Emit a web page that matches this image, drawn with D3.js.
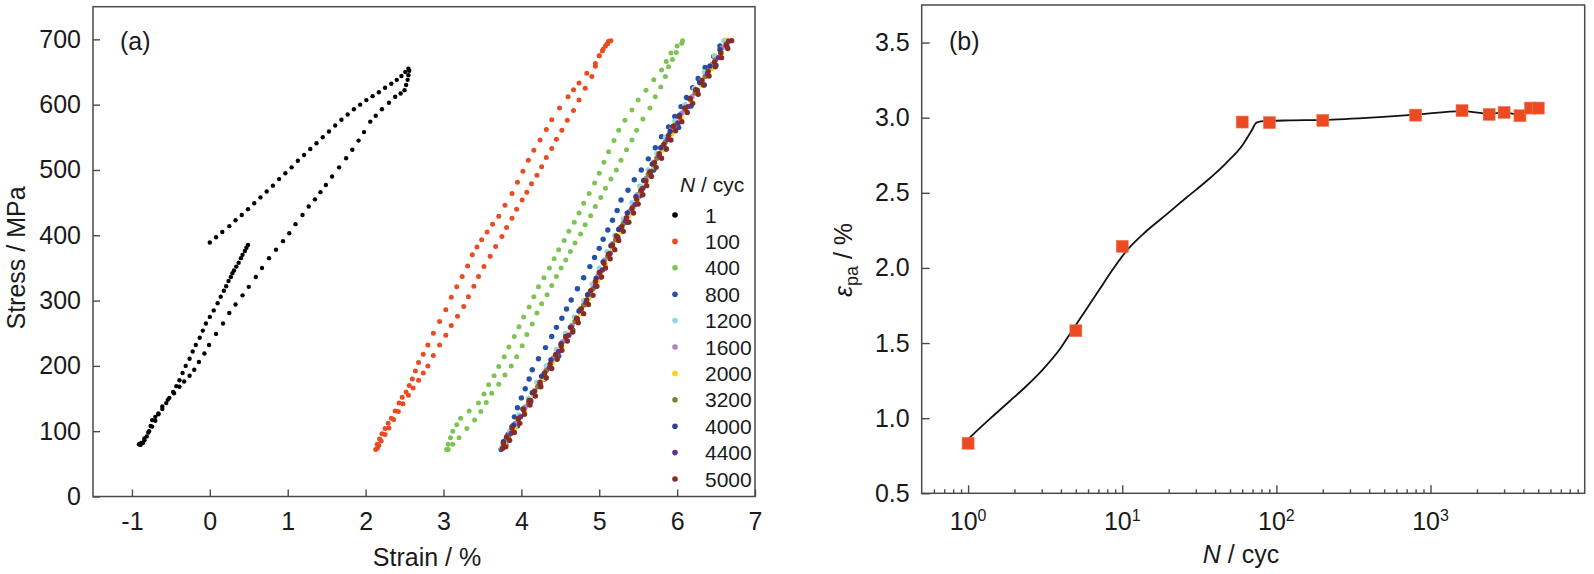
<!DOCTYPE html>
<html><head><meta charset="utf-8">
<script src="https://cdn.jsdelivr.net/npm/d3@7"></script>
<style>
body{margin:0;background:#fff}
svg{display:block}
text{font-family:"Liberation Sans",Arial,Helvetica,sans-serif;fill:#1a1a1a}
</style>
</head><body>
<svg id="c" width="1594" height="574"></svg>
<script>
// ---------------- Panel (a) data: stress-strain loops [strain %, stress MPa] ----------------
const cycleLabels = ["1","100","400","800","1200","1600","2000","3200","4000","4400","5000"];
const cycleColors = ["#000000","#ea4b23","#7dc454","#2253a6","#93d5da","#a883c4","#f8d21c","#8a7b2e","#2c3f92","#6c2e8f","#8b2a1e"];

const cycle1 = [
 [0.00,389],[0.08,397],[0.16,405],[0.25,414],[0.33,423],[0.41,431],[0.49,440],[0.57,449],[0.65,458],[0.73,467],
 [0.81,476],[0.89,486],[0.97,495],[1.05,504],[1.13,514],[1.21,523],[1.29,532],[1.37,541],[1.45,550],[1.53,559],
 [1.61,568],[1.69,577],[1.77,585],[1.85,593],[1.93,600],[2.01,607],[2.09,613],[2.17,619],[2.25,626],[2.33,632],
 [2.40,638],[2.46,644],[2.51,650],[2.55,655],
 [2.56,652],[2.55,645],[2.54,638],[2.52,630],[2.50,622],[2.45,617],[2.38,612],[2.30,603],[2.21,593],[2.13,583],
 [2.06,574],[1.98,558],[1.91,545],[1.83,531],[1.75,518],[1.66,504],[1.57,490],[1.49,477],[1.42,466],[1.35,455],
 [1.27,444],[1.19,431],[1.10,417],[1.02,403],[0.94,391],[0.85,378],[0.76,365],[0.67,350],[0.59,336],[0.50,321],
 [0.42,308],[0.33,294],[0.25,281],[0.17,265],[0.08,249],[-0.01,232],[-0.07,219],[-0.14,206],[-0.20,194],[-0.26,185],
 [-0.33,176],[-0.39,168],[-0.46,158],[-0.54,148],[-0.61,138],[-0.66,126],[-0.70,116],[-0.74,107],[-0.79,98],[-0.84,89],
 [-0.88,82],
 [-0.91,80],[-0.89,79],[-0.86,82],[-0.84,86],[-0.81,92],[-0.78,100],[-0.76,108],[-0.74,117],[-0.70,122],[-0.66,127],
 [-0.61,134],[-0.56,143],[-0.52,151],[-0.47,160],[-0.43,169],[-0.39,178],[-0.35,189],[-0.31,200],[-0.26,211],[-0.22,222],
 [-0.18,232],[-0.13,243],[-0.09,254],[-0.05,265],[0.00,275],[0.05,285],[0.10,296],[0.14,306],[0.18,315],[0.21,322],
 [0.24,330],[0.27,336],[0.29,342],[0.31,346],[0.34,352],[0.37,358],[0.40,365],[0.42,370],[0.45,376],[0.47,381],[0.49,385]
];

const cycle100 = [
 [2.13,72],[2.15,80],[2.18,88],[2.21,96],[2.25,104],[2.29,112],[2.33,120],[2.38,131],[2.43,143],[2.47,152],
 [2.52,160],[2.56,170],[2.60,180],[2.64,192],[2.68,205],[2.74,218],[2.80,232],[2.87,250],[2.95,268],[3.03,286],
 [3.10,305],[3.17,321],[3.24,337],[3.31,353],[3.37,370],[3.43,382],[3.49,393],[3.56,405],[3.63,417],[3.71,429],
 [3.79,446],[3.88,464],[3.95,481],[4.02,498],[4.09,515],[4.16,530],[4.24,546],[4.32,562],[4.39,577],[4.49,595],
 [4.60,612],[4.67,623],[4.74,633],[4.84,648],[4.95,663],[5.00,675],[5.05,685],[5.10,693],[5.12,697],
 [5.15,698],[5.11,694],[5.08,690],[5.04,682],[5.00,675],[4.95,659],[4.905,643],[4.82,625],[4.74,607],[4.67,591],
 [4.59,576],[4.52,561],[4.45,547],[4.39,533],[4.32,519],[4.26,505],[4.20,492],[4.13,479],[4.07,466],[4.01,454],
 [3.94,440],[3.88,426],[3.81,412],[3.75,398],[3.67,383],[3.60,368],[3.52,352],[3.45,337],[3.39,322],[3.32,306],
 [3.26,291],[3.18,276],[3.10,262],[3.03,247],[2.95,232],[2.87,216],[2.80,200],[2.74,189],[2.68,178],[2.61,166],
 [2.55,155],[2.48,142],[2.42,130],[2.36,118],[2.30,105],[2.25,95],[2.20,85],[2.17,78],[2.15,74]
];

const cycle400 = [
 [3.04,72],[3.06,80],[3.09,90],[3.12,100],[3.17,110],[3.22,120],[3.33,131],[3.45,143],[3.52,157],[3.58,171],
 [3.65,185],[3.71,199],[3.78,214],[3.84,229],[3.91,245],[3.97,260],[4.03,275],[4.10,290],[4.16,306],[4.22,321],
 [4.29,335],[4.36,350],[4.42,364],[4.48,378],[4.55,392],[4.61,406],[4.68,420],[4.74,434],[4.80,449],[4.87,464],
 [4.94,480],[5.00,495],[5.06,512],[5.12,528],[5.19,545],[5.25,561],[5.33,576],[5.42,592],[5.50,607],[5.60,622],
 [5.70,638],[5.80,653],[5.86,666],[5.92,679],[6.00,690],[6.07,698],
 [6.06,694],[5.99,680],[5.94,669],[5.89,658],[5.85,643],[5.79,627],[5.72,612],[5.65,595],[5.56,578],[5.48,561],
 [5.42,546],[5.35,531],[5.28,515],[5.22,500],[5.15,486],[5.08,472],[5.02,458],[4.95,444],[4.89,430],[4.82,416],
 [4.76,402],[4.69,388],[4.63,375],[4.57,362],[4.51,350],[4.45,337],[4.39,323],[4.33,309],[4.26,295],[4.20,281],
 [4.14,264],[4.07,248],[4.01,231],[3.94,214],[3.87,200],[3.79,186],[3.71,172],[3.62,158],[3.55,144],[3.48,130],
 [3.40,117],[3.30,104],[3.20,90],[3.12,80],[3.06,72]
];

const cycle800 = [
 [3.74,72],[3.77,82],[3.83,95],[3.88,107],[3.91,122],[3.95,136],[4.00,151],[4.05,165],[4.10,180],[4.14,194],
 [4.22,211],[4.31,228],[4.39,245],[4.45,259],[4.52,273],[4.58,287],[4.64,301],[4.72,318],[4.80,335],[4.88,352],
 [4.94,366],[5.00,380],[5.05,394],[5.11,408],[5.17,423],[5.23,438],[5.28,454],[5.37,469],[5.45,485],[5.54,500],
 [5.63,517],[5.72,534],[5.80,551],[5.89,566],[5.97,582],[6.05,597],[6.12,611],[6.20,626],[6.27,640],[6.36,657],
 [6.47,674],[6.55,690],[6.62,698],
 [6.64,690],[6.50,660],[6.35,630],[6.18,598],[6.02,565],[5.86,532],[5.70,500],[5.52,460],[5.35,420],[5.18,380],
 [5.01,336],[4.84,296],[4.66,255],[4.48,215],[4.30,180],[4.12,145],[3.95,108],[3.80,80]
];

const cycle1200 = [
 [3.75,75],[3.85,100],[3.97,125],[4.09,150],[4.20,175],[4.32,200],[4.45,225],[4.57,250],[4.68,275],[4.80,300],
 [4.91,325],[5.00,350],[5.10,375],[5.20,400],[5.31,425],[5.42,450],[5.52,475],[5.63,500],[5.74,525],[5.85,550],
 [5.97,575],[6.10,600],[6.22,625],[6.35,650],[6.48,675],[6.60,698]
];

const cycle1600 = [
 [3.80,87],[3.92,112],[4.05,137],[4.17,162],[4.28,187],[4.41,212],[4.53,237],[4.65,262],[4.76,287],[4.88,312],
 [4.98,337],[5.07,362],[5.17,387],[5.27,412],[5.39,437],[5.49,462],[5.60,487],[5.70,512],[5.82,537],[5.93,562],
 [6.06,587],[6.19,612],[6.31,637],[6.45,662],[6.58,687]
];

const cycle2000 = [
 [3.79,80],[3.92,105],[4.04,130],[4.16,155],[4.28,180],[4.40,205],[4.52,230],[4.64,255],[4.76,280],[4.87,305],
 [4.98,330],[5.08,355],[5.17,380],[5.28,405],[5.38,430],[5.49,455],[5.59,480],[5.70,505],[5.81,530],[5.93,555],
 [6.05,580],[6.18,605],[6.31,630],[6.44,655],[6.57,680],[6.64,699]
];

const cycle3200 = [
 [3.84,93],[3.96,118],[4.09,143],[4.21,168],[4.32,193],[4.45,218],[4.57,243],[4.69,268],[4.80,293],[4.92,318],
 [5.01,343],[5.11,368],[5.21,393],[5.31,418],[5.43,443],[5.53,468],[5.63,493],[5.74,518],[5.85,543],[5.97,568],
 [6.10,593],[6.23,618],[6.36,643],[6.49,668],[6.63,693]
];

const cycle4000 = [
 [3.77,84],[3.90,109],[4.02,134],[4.14,159],[4.26,184],[4.38,209],[4.51,234],[4.63,259],[4.74,284],[4.85,309],
 [4.96,334],[5.05,359],[5.15,384],[5.25,409],[5.36,434],[5.47,459],[5.57,484],[5.68,509],[5.79,534],[5.91,559],
 [6.03,584],[6.16,609],[6.29,634],[6.42,659],[6.55,684]
];

const cycle4400 = [
 [3.87,97],[3.99,122],[4.12,147],[4.24,172],[4.36,197],[4.48,222],[4.61,247],[4.72,272],[4.83,297],[4.95,322],
 [5.04,347],[5.14,372],[5.24,397],[5.34,422],[5.46,447],[5.56,472],[5.66,497],[5.77,522],[5.88,547],[6.01,572],
 [6.14,597],[6.26,622],[6.39,647],[6.53,672],[6.66,697]
];

const cycle5000 = [
 [3.76,74],[3.77,81],[3.81,91],[3.88,105],[3.96,119],[4.03,133],[4.10,147],[4.17,161],[4.24,175],[4.30,189],
 [4.37,203],[4.44,217],[4.51,231],[4.57,245],[4.64,259],[4.71,273],[4.77,287],[4.84,301],[4.89,315],[4.95,329],
 [5.00,343],[5.06,357],[5.12,371],[5.17,385],[5.22,399],[5.29,413],[5.35,427],[5.42,441],[5.48,455],[5.54,469],
 [5.60,483],[5.65,497],[5.71,511],[5.77,525],[5.83,539],[5.89,553],[5.95,567],[6.03,581],[6.10,595],[6.17,609],
 [6.24,623],[6.32,637],[6.40,651],[6.48,665],[6.56,679],[6.63,691],
 [6.70,698],[6.65,686],[6.57,672],[6.49,658],[6.41,644],[6.34,630],[6.27,616],[6.20,602],[6.13,588],[6.06,574],
 [5.98,560],[5.92,546],[5.86,532],[5.80,518],[5.73,504],[5.67,490],[5.61,476],[5.56,462],[5.50,448],[5.44,434],
 [5.38,420],[5.31,406],[5.25,392],[5.20,378],[5.14,364],[5.08,350],[5.03,336],[4.97,322],[4.92,308],[4.86,294],
 [4.80,280],[4.73,266],[4.66,252],[4.59,238],[4.52,224],[4.46,210],[4.39,196],[4.32,182],[4.25,168],[4.18,154],
 [4.11,140],[4.04,126],[3.98,112],[3.91,98],[3.85,86],[3.80,76]
];

const cycleSeries = [cycle1,cycle100,cycle400,cycle800,cycle1200,cycle1600,cycle2000,cycle3200,cycle4000,cycle4400,cycle5000];

const strainTicks = [-1,0,1,2,3,4,5,6,7];
const stressTicks = [0,100,200,300,400,500,600,700];

// ---------------- Panel (b) data ----------------
const fatigueCycles = [1,5,10,60,90,200,800,1600,2400,3000,3800,4450,5000];
const epaValues     = [0.833,1.582,2.144,2.971,2.967,2.982,3.017,3.047,3.022,3.035,3.013,3.064,3.064];
const fitCycles = [1.0,1.07,1.44,1.85,2.37,3.04,3.91,4.77,5.82,7.11,8.67,10.6,14.3,19.3,26.0,35.1,47.4,60.7,68.8,74.3,82.0,122,200,467,800,1600,2400,3000,3800,4450];
const fitValues = [0.86,0.889,1.011,1.111,1.211,1.322,1.455,1.589,1.722,1.856,1.989,2.111,2.244,2.355,2.467,2.577,2.70,2.822,2.911,2.967,2.977,2.982,2.985,3.004,3.02,3.044,3.027,3.035,3.02,3.05];
const epaTicks = [0.5,1.0,1.5,2.0,2.5,3.0,3.5];
const cycleMajorTicks = [1,10,100,1000];
const cycleMinorTicks = [0.6,0.7,0.8,0.9,2,3,4,5,6,7,8,9,20,30,40,50,60,70,80,90,200,300,400,500,600,700,800,900,2000,3000,4000,5000,6000,7000,8000,9000];

// ---------------- Drawing ----------------
const svg = d3.select("#c");
const FONT = 25;
const axisColor = "#4a4a4a";

function styleAxis(g){
  g.attr("font-size",FONT).attr("font-family",'"Liberation Sans",Arial,sans-serif');
  g.select(".domain").remove();
  g.selectAll(".tick line").attr("stroke",axisColor).attr("stroke-width",1.4);
  g.selectAll(".tick text").attr("fill","#1a1a1a");
}

// ---- Panel (a)
const ax = {l:93, r:755, t:6.7, b:496.5};
const xA = d3.scaleLinear().domain([-1.5,7]).range([ax.l,ax.r]);
const yA = d3.scaleLinear().domain([0,750]).range([ax.b,ax.t]);

svg.append("g").attr("transform",`translate(0,${ax.b})`)
  .call(d3.axisBottom(xA).tickValues(strainTicks).tickSizeInner(-7).tickSizeOuter(0).tickPadding(16).tickFormat(d=>String(d)))
  .call(styleAxis);
svg.append("g").attr("transform",`translate(${ax.l},0)`)
  .call(d3.axisLeft(yA).tickValues(stressTicks).tickSizeInner(-7).tickSizeOuter(0).tickPadding(12).tickFormat(d=>String(d)))
  .call(styleAxis);
svg.append("rect").attr("x",ax.l).attr("y",ax.t).attr("width",ax.r-ax.l).attr("height",ax.b-ax.t)
  .attr("fill","none").attr("stroke",axisColor).attr("stroke-width",1.5);

const dotsG = svg.append("g");
cycleSeries.forEach((s,i)=>{
  dotsG.append("g").attr("fill",cycleColors[i])
    .selectAll("circle").data(s).join("circle")
    .attr("cx",d=>xA(d[0])).attr("cy",d=>yA(d[1])).attr("r",i===0?2.2:(i<3?2.5:2.7));
});

svg.append("text").attr("x",120).attr("y",50).attr("font-size",FONT).text("(a)");
svg.append("text").attr("x",427).attr("y",566).attr("text-anchor","middle").attr("font-size",FONT).text("Strain / %");
svg.append("text").attr("transform",`translate(25,258) rotate(-90)`).attr("text-anchor","middle").attr("font-size",FONT).text("Stress / MPa");

// legend
const lg = svg.append("g");
const lt = lg.append("text").attr("x",680).attr("y",192).attr("font-size",21);
lt.append("tspan").attr("font-style","italic").text("N");
lt.append("tspan").text(" / cyc");
cycleLabels.forEach((lab,i)=>{
  const cy = 215 + i*26.4;
  lg.append("circle").attr("cx",675).attr("cy",cy).attr("r",2.8).attr("fill",cycleColors[i]);
  lg.append("text").attr("x",705).attr("y",cy+7.5).attr("font-size",21).text(lab);
});

// ---- Panel (b)
const bx = {l:921.7, r:1584.7, t:5, b:493.3};
const xB = d3.scaleLog().domain([0.5,10000]).range([bx.l,bx.r]);
const yB = d3.scaleLinear().domain([0.5,3.75]).range([bx.b,bx.t]);

const allCycTicks = cycleMinorTicks.concat(cycleMajorTicks);
const gxB = svg.append("g").attr("transform",`translate(0,${bx.b})`)
  .call(d3.axisBottom(xB).tickValues(allCycTicks).tickSizeInner(-4).tickSizeOuter(0).tickFormat(()=>""))
  .call(styleAxis);
gxB.selectAll(".tick line").attr("y2",d=>cycleMajorTicks.includes(d)?-8:-4);
cycleMajorTicks.forEach(v=>{
  const t = svg.append("text").attr("x",xB(v)).attr("y",bx.b+37).attr("text-anchor","middle").attr("font-size",FONT);
  t.append("tspan").text("10");
  t.append("tspan").attr("font-size",16).attr("dy",-9).text(String(Math.round(Math.log10(v))));
});
svg.append("g").attr("transform",`translate(${bx.l},0)`)
  .call(d3.axisLeft(yB).tickValues(epaTicks).tickSizeInner(-8).tickSizeOuter(0).tickPadding(12).tickFormat(d3.format(".1f")))
  .call(styleAxis);
svg.append("rect").attr("x",bx.l).attr("y",bx.t).attr("width",bx.r-bx.l).attr("height",bx.b-bx.t)
  .attr("fill","none").attr("stroke",axisColor).attr("stroke-width",1.5);

const fitData = fitCycles.map((c,i)=>[c,fitValues[i]]);
svg.append("path").datum(fitData)
  .attr("fill","none").attr("stroke","#111").attr("stroke-width",1.8)
  .attr("d",d3.line().x(d=>xB(d[0])).y(d=>yB(d[1])).curve(d3.curveMonotoneX));

const sq = 12;
svg.append("g").selectAll("rect").data(fatigueCycles.map((c,i)=>[c,epaValues[i]])).join("rect")
  .attr("x",d=>xB(d[0])-sq/2).attr("y",d=>yB(d[1])-sq/2).attr("width",sq).attr("height",sq)
  .attr("fill","#ea4b23").attr("stroke","#f07a57").attr("stroke-width",0.6);

svg.append("text").attr("x",949).attr("y",50).attr("font-size",FONT).text("(b)");
const nt = svg.append("text").attr("x",1241).attr("y",563).attr("text-anchor","middle").attr("font-size",FONT);
nt.append("tspan").attr("font-style","italic").text("N");
nt.append("tspan").text(" / cyc");
const et = svg.append("text").attr("transform","translate(852,260) rotate(-90)").attr("text-anchor","middle").attr("font-size",FONT);
et.append("tspan").attr("font-style","italic").text("ε");
et.append("tspan").attr("font-size",18).attr("dy",6).text("pa");
et.append("tspan").attr("dy",-6).text(" / %");
</script>
</body></html>
